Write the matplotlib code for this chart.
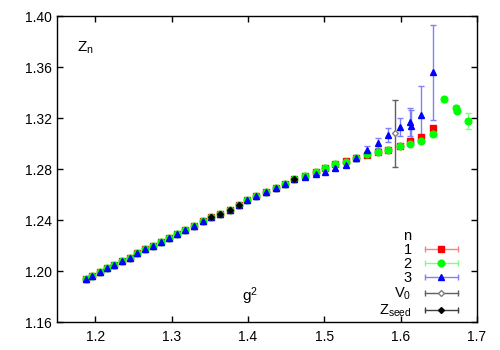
import matplotlib
matplotlib.use('Agg')
import matplotlib.pyplot as plt
from matplotlib.lines import Line2D
from matplotlib.legend_handler import HandlerLine2D

plt.rcParams['font.family'] = ['Liberation Sans', 'DejaVu Sans']
plt.rcParams['mathtext.fontset'] = 'custom'
plt.rcParams['mathtext.rm'] = 'Liberation Sans'

# points where all three n agree
x_common = [1.188, 1.196, 1.206, 1.216, 1.225, 1.235, 1.245, 1.255, 1.265, 1.276,
            1.286, 1.297, 1.307, 1.318, 1.329, 1.341, 1.352, 1.364, 1.376, 1.388,
            1.399, 1.411, 1.424, 1.437, 1.448, 1.460]
y_common = [1.194, 1.196, 1.199, 1.202, 1.205, 1.208, 1.210, 1.214, 1.217, 1.220,
            1.223, 1.226, 1.229, 1.232, 1.235, 1.239, 1.242, 1.245, 1.248, 1.252,
            1.256, 1.259, 1.262, 1.265, 1.268, 1.272]
e_common = [0.0005] * 26

# n = 1
x_n1 = x_common + [1.475, 1.489, 1.501, 1.514, 1.528, 1.542, 1.556, 1.570, 1.584,
                   1.599, 1.612, 1.627, 1.642]
y_n1 = y_common + [1.2748, 1.2777, 1.2812, 1.2838, 1.2860, 1.2888, 1.2914, 1.2934,
                   1.2951, 1.2980, 1.3022, 1.3049, 1.3124]
e_n1 = e_common + [0.0006, 0.0006, 0.0007, 0.0007, 0.0008, 0.0008, 0.0008, 0.0009,
                   0.0009, 0.001, 0.001, 0.001, 0.0015]

# n = 2
x_n2 = x_common + [1.475, 1.489, 1.501, 1.514, 1.528, 1.542, 1.556, 1.570, 1.584,
                   1.599, 1.612, 1.627, 1.642, 1.657, 1.672, 1.674, 1.688]
y_n2 = y_common + [1.2745, 1.2774, 1.2810, 1.2837, 1.2858, 1.2886, 1.2916, 1.2936,
                   1.2952, 1.2980, 1.2996, 1.3022, 1.3077, 1.3347, 1.3276, 1.3257, 1.3176]
e_n2 = e_common + [0.0006, 0.0006, 0.0007, 0.0007, 0.0008, 0.0008, 0.0008, 0.0009,
                   0.0009, 0.001, 0.001, 0.001, 0.001, 0.001, 0.0025, 0.002, 0.006]

# n = 3
x_n3 = x_common + [1.475, 1.489, 1.501, 1.514, 1.528, 1.542, 1.556, 1.570, 1.584,
                   1.599, 1.612, 1.614, 1.627, 1.642]
y_n3 = y_common + [1.2740, 1.2758, 1.2779, 1.2810, 1.2834, 1.2886, 1.2949, 1.3007,
                   1.3067, 1.3132, 1.3169, 1.3137, 1.3226, 1.3558]
e_n3 = [0.001] * 26 + [0.0012, 0.0015, 0.0018, 0.002, 0.002, 0.0025, 0.003, 0.004,
                       0.0052, 0.007, 0.011, 0.0125, 0.0225, 0.037]

# V0 and Z_seed
x_v0 = [1.352, 1.364, 1.376, 1.388, 1.460, 1.593]
y_v0 = [1.242, 1.245, 1.248, 1.252, 1.272, 1.308]
e_v0 = [0.0005, 0.0005, 0.0005, 0.0005, 0.0008, 0.026]

x_seed = [1.352, 1.364, 1.376, 1.388, 1.460]
y_seed = [1.242, 1.245, 1.248, 1.252, 1.272]
e_seed = [0.0005, 0.0005, 0.0005, 0.0005, 0.0008]

xticks = [1.2, 1.3, 1.4, 1.5, 1.6, 1.7]
yticks = [1.16, 1.20, 1.24, 1.28, 1.32, 1.36, 1.40]

series = [
    # x, y, err, marker, colour, bar colour, size, face, label
    (x_n1, y_n1, e_n1, 's', '#ff0000', '#ff8080', 4.6, '#ff0000', '1'),
    (x_n2, y_n2, e_n2, 'o', '#00ff00', '#80ff80', 4.8, '#00ff00', '2'),
    (x_n3, y_n3, e_n3, '^', '#0000ff', '#8080ff', 4.2, '#0000ff', '3'),
    (x_v0, y_v0, e_v0, 'D', '#808080', '#606060', 3, 'white', 'V$_0$'),
    (x_seed, y_seed, e_seed, 'D', '#000000', '#404040', 3, '#000000', 'Z$_{\\mathregular{seed}}$'),
]

fig = plt.figure(figsize=(5, 3.5), dpi=100)
ax = fig.add_axes([0.114, 0.08, 0.84, 0.874])

handles = [Line2D([], [], linestyle='none')]
labels = ['n']
hmap = {}
for x, y, e, m, c, ec, ms, fc, lab in series:
    ax.errorbar(x, y, yerr=e, fmt=m, color=c, mfc=fc, mec=c, ms=ms, mew=1,
                ecolor=ec, elinewidth=1, capsize=2, capthick=1)
    cap = Line2D([], [], color=ec, lw=1, marker='|', ms=5, mew=1)
    mk = Line2D([], [], linestyle='none', marker=m, color=c, mfc=fc, mec=c, ms=ms)
    hmap[cap] = HandlerLine2D(numpoints=2)
    hmap[mk] = HandlerLine2D(numpoints=1)
    handles.append((cap, mk))
    labels.append(lab)

ax.set_xlim(1.15, 1.7)
ax.set_ylim(1.16, 1.40)
ax.set_xticks(xticks)
ax.set_xticklabels(['%.1f' % t for t in xticks])
ax.set_yticks(yticks)
ax.set_yticklabels(['%.2f' % t for t in yticks])
ax.tick_params(direction='in', top=True, right=True, length=4, width=1, labelsize=10)
ax.tick_params(axis='x', pad=6)
for s in ax.spines.values():
    s.set_linewidth(1)

ax.text(0.048, 0.895, '$\\mathregular{Z_n}$', transform=ax.transAxes, fontsize=11,
        ha='left', va='center')
ax.text(0.46, 0.085, '$\\mathregular{g^2}$', transform=ax.transAxes, fontsize=11,
        ha='center', va='center')

ax.legend(handles, labels, handler_map=hmap, loc='lower right',
          bbox_to_anchor=(0.99, -0.025), frameon=False, markerfirst=False,
          handlelength=2.9, handletextpad=0.6, labelspacing=0.02, fontsize=10.5,
          borderpad=0.2)

fig.savefig('out.png', dpi=100)
